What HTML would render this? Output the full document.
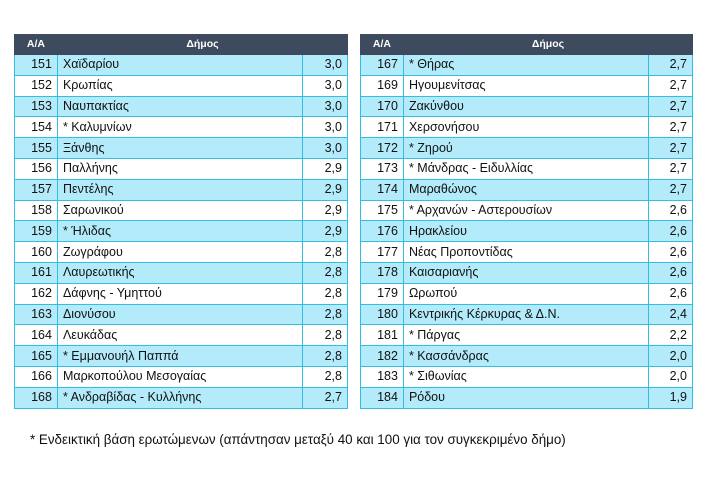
<!DOCTYPE html><html><head><meta charset="utf-8"><style>
body{margin:0;width:712px;height:482px;background:#fff;font-family:"Liberation Sans","DejaVu Sans",sans-serif;position:relative;overflow:hidden}
table{position:absolute;top:34px;border-collapse:collapse;font-size:12.5px;color:#111}
td,th{height:19.8px;padding:0 5px;border:1px solid #33bde0;line-height:19px}
th{background:#3e4b5f;color:#fff;font-size:10.5px;font-weight:bold;height:19px;border:1px solid #3e4b5f}
tr:nth-child(even) td{background:#b4ebfa}
td.n{text-align:right}td.v{text-align:right}
.f{position:absolute;left:30px;top:432px;font-size:13.4px;color:#111}
</style></head><body>
<table style="left:14px;width:334px">
<colgroup><col style="width:43px"><col style="width:246px"><col style="width:45px"></colgroup>
<tr><th>Α/Α</th><th colspan="2">Δήμος</th></tr>
<tr><td class="n">151</td><td>Χαϊδαρίου</td><td class="v">3,0</td></tr>
<tr><td class="n">152</td><td>Κρωπίας</td><td class="v">3,0</td></tr>
<tr><td class="n">153</td><td>Ναυπακτίας</td><td class="v">3,0</td></tr>
<tr><td class="n">154</td><td>* Καλυμνίων</td><td class="v">3,0</td></tr>
<tr><td class="n">155</td><td>Ξάνθης</td><td class="v">3,0</td></tr>
<tr><td class="n">156</td><td>Παλλήνης</td><td class="v">2,9</td></tr>
<tr><td class="n">157</td><td>Πεντέλης</td><td class="v">2,9</td></tr>
<tr><td class="n">158</td><td>Σαρωνικού</td><td class="v">2,9</td></tr>
<tr><td class="n">159</td><td>* Ήλιδας</td><td class="v">2,9</td></tr>
<tr><td class="n">160</td><td>Ζωγράφου</td><td class="v">2,8</td></tr>
<tr><td class="n">161</td><td>Λαυρεωτικής</td><td class="v">2,8</td></tr>
<tr><td class="n">162</td><td>Δάφνης - Υμηττού</td><td class="v">2,8</td></tr>
<tr><td class="n">163</td><td>Διονύσου</td><td class="v">2,8</td></tr>
<tr><td class="n">164</td><td>Λευκάδας</td><td class="v">2,8</td></tr>
<tr><td class="n">165</td><td>* Εμμανουήλ Παππά</td><td class="v">2,8</td></tr>
<tr><td class="n">166</td><td>Μαρκοπούλου Μεσογαίας</td><td class="v">2,8</td></tr>
<tr><td class="n">168</td><td>* Ανδραβίδας - Κυλλήνης</td><td class="v">2,7</td></tr>
</table>
<table style="left:360px;width:333px">
<colgroup><col style="width:43px"><col style="width:246px"><col style="width:44px"></colgroup>
<tr><th>Α/Α</th><th colspan="2">Δήμος</th></tr>
<tr><td class="n">167</td><td>* Θήρας</td><td class="v">2,7</td></tr>
<tr><td class="n">169</td><td>Ηγουμενίτσας</td><td class="v">2,7</td></tr>
<tr><td class="n">170</td><td>Ζακύνθου</td><td class="v">2,7</td></tr>
<tr><td class="n">171</td><td>Χερσονήσου</td><td class="v">2,7</td></tr>
<tr><td class="n">172</td><td>* Ζηρού</td><td class="v">2,7</td></tr>
<tr><td class="n">173</td><td>* Μάνδρας - Ειδυλλίας</td><td class="v">2,7</td></tr>
<tr><td class="n">174</td><td>Μαραθώνος</td><td class="v">2,7</td></tr>
<tr><td class="n">175</td><td>* Αρχανών - Αστερουσίων</td><td class="v">2,6</td></tr>
<tr><td class="n">176</td><td>Ηρακλείου</td><td class="v">2,6</td></tr>
<tr><td class="n">177</td><td>Νέας Προποντίδας</td><td class="v">2,6</td></tr>
<tr><td class="n">178</td><td>Καισαριανής</td><td class="v">2,6</td></tr>
<tr><td class="n">179</td><td>Ωρωπού</td><td class="v">2,6</td></tr>
<tr><td class="n">180</td><td>Κεντρικής Κέρκυρας &amp; Δ.Ν.</td><td class="v">2,4</td></tr>
<tr><td class="n">181</td><td>* Πάργας</td><td class="v">2,2</td></tr>
<tr><td class="n">182</td><td>* Κασσάνδρας</td><td class="v">2,0</td></tr>
<tr><td class="n">183</td><td>* Σιθωνίας</td><td class="v">2,0</td></tr>
<tr><td class="n">184</td><td>Ρόδου</td><td class="v">1,9</td></tr>
</table>
<div class="f">* Ενδεικτική βάση ερωτώμενων (απάντησαν μεταξύ 40 και 100 για τον συγκεκριμένο δήμο)</div>
</body></html>
